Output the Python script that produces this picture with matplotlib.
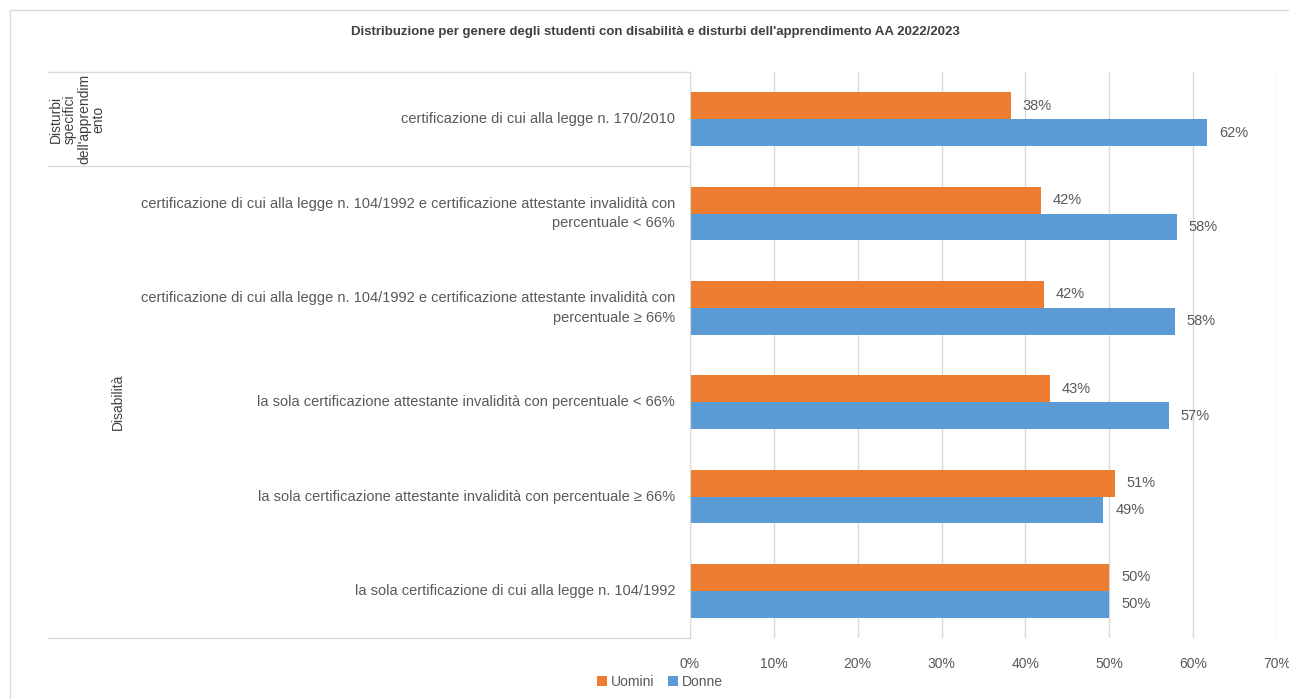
import numpy as np
import matplotlib.pyplot as plt
from matplotlib.lines import Line2D
from matplotlib.patches import Rectangle

# Dati (quote percentuali per genere)
categorie = [
    "certificazione di cui alla legge n. 170/2010",
    "certificazione di cui alla legge n. 104/1992 e certificazione attestante invalidità con\npercentuale < 66%",
    "certificazione di cui alla legge n. 104/1992 e certificazione attestante invalidità con\npercentuale ≥ 66%",
    "la sola certificazione attestante invalidità con percentuale < 66%",
    "la sola certificazione attestante invalidità con percentuale ≥ 66%",
    "la sola certificazione di cui alla legge n. 104/1992",
]
gruppi = ["Disturbi\nspecifici\ndell'apprendim\nento", "Disabilità"]
gruppo_n = [1, 5]  # numero di categorie per gruppo
uomini = [38.3, 41.9, 42.2, 42.9, 50.7, 50.0]
donne = [61.7, 58.1, 57.8, 57.1, 49.3, 50.0]
etich_uomini = ["38%", "42%", "42%", "43%", "51%", "50%"]
etich_donne = ["62%", "58%", "58%", "57%", "49%", "50%"]

ARANCIO = "#ED7D31"
BLU = "#5B9BD5"
GRIGIO = "#595959"
LINEA = "#D9D9D9"

plt.rcParams["font.family"] = ["Liberation Sans Narrow", "Liberation Sans", "DejaVu Sans"]

W, H = 1289, 699
fig = plt.figure(figsize=(W / 100, H / 100), dpi=100)

x0, x1, y0, y1 = 690, 1277, 72, 638
ax = fig.add_axes([x0 / W, 1 - y1 / H, (x1 - x0) / W, (y1 - y0) / H])

n = len(categorie)
pos = np.arange(n)
h = 0.285
ax.barh(pos - h / 2, uomini, height=h, color=ARANCIO, label="Uomini")
ax.barh(pos + h / 2, donne, height=h, color=BLU, label="Donne")
for i in range(n):
    ax.text(uomini[i] + 1.4, pos[i] - h / 2, etich_uomini[i], va="center", ha="left",
            fontsize=10.5, color=GRIGIO)
    ax.text(donne[i] + 1.4, pos[i] + h / 2, etich_donne[i], va="center", ha="left",
            fontsize=10.5, color=GRIGIO)

ax.set_xlim(0, 70)
ax.set_ylim(n - 0.5, -0.5)
ax.set_xticks(np.arange(0, 71, 10))
ax.set_xticklabels([f"{v}%" for v in range(0, 71, 10)], fontsize=10, color=GRIGIO)
ax.tick_params(axis="x", length=0, pad=14)
ax.set_yticks([])
ax.grid(axis="x", color=LINEA, linewidth=1)
ax.set_axisbelow(True)
for s in ["top", "right", "bottom"]:
    ax.spines[s].set_visible(False)
ax.spines["left"].set_color(LINEA)

# Tabella delle categorie a sinistra
band = (y1 - y0) / n
def fy(y):
    return 1 - y / H

for y in [y0, y0 + band * gruppo_n[0], y1]:
    fig.add_artist(Line2D([48 / W, x0 / W], [fy(y), fy(y)], color=LINEA, lw=1))

for i, c in enumerate(categorie):
    yc = y0 + band * (i + 0.5)
    fig.text(675 / W, fy(yc), c, ha="right", va="center", fontsize=10.5,
             color=GRIGIO, linespacing=1.5)

ys = [y0, y0 + band * gruppo_n[0], y1]
fig.text(77 / W, fy((ys[0] + ys[1]) / 2), gruppi[0], rotation=90, ha="center",
         va="center", multialignment="center", fontsize=10, color="#404040",
         linespacing=1.0)
fig.text(118 / W, fy((ys[1] + ys[2]) / 2), gruppi[1], rotation=90, ha="center",
         va="center", fontsize=10, color="#404040")

fig.text(655 / W, fy(32), "Distribuzione per genere degli studenti con disabilità e disturbi dell'apprendimento AA 2022/2023",
         ha="center", va="center", fontsize=9.5, fontweight="bold", color="#404040")

# Bordo del grafico
fig.add_artist(Rectangle((10 / W, -0.01), 1.0, fy(10) + 0.01, fill=False,
                         edgecolor=LINEA, lw=1))

leg = fig.legend(loc="center", bbox_to_anchor=(660 / W, fy(682)), ncol=2, frameon=False,
                 fontsize=10, handlelength=0.7, handleheight=0.7, handletextpad=0.3,
                 columnspacing=1.0)
for t in leg.get_texts():
    t.set_color(GRIGIO)

fig.savefig("out.png", dpi=100)
